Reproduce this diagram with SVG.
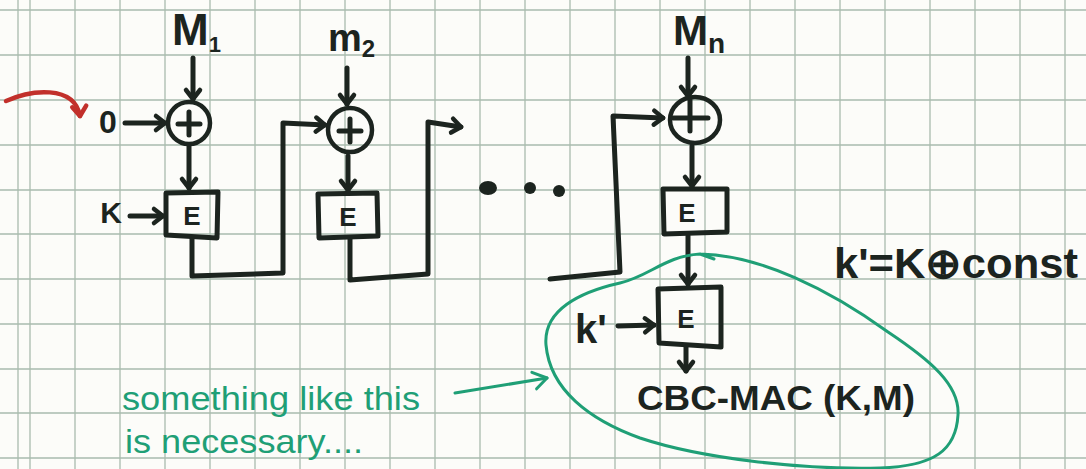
<svg xmlns="http://www.w3.org/2000/svg" width="1086" height="469" viewBox="0 0 1086 469">
<defs>
<style>
.grid line{stroke:#a9bbae;stroke-width:1.3}
.ink{stroke:#1c241f;stroke-width:5;fill:none;stroke-linecap:round;stroke-linejoin:round}
.box{stroke:#1c241f;stroke-width:5;fill:none;stroke-linejoin:round}
.xor{stroke:#1c241f;stroke-width:4.5;fill:none}
.lbl{font-family:"Liberation Sans",Arial,sans-serif;font-weight:bold;fill:#1c241f}
.ebox{font-family:"Liberation Sans",Arial,sans-serif;font-weight:bold;fill:#1c241f;font-size:26px;text-anchor:middle}
.grn{font-family:"Liberation Sans",Arial,sans-serif;fill:#1f9f76}
.gline{stroke:#1f9f76;stroke-width:3;fill:none;stroke-linecap:round;stroke-linejoin:round}
</style>
<marker id="ah" viewBox="-12 -10 14 20" markerWidth="14" markerHeight="20" refX="0" refY="0" markerUnits="userSpaceOnUse" orient="auto" overflow="visible">
<path d="M-9,-7 L0,0 L-9,7" fill="none" stroke="#1c241f" stroke-width="4.5" stroke-linecap="round" stroke-linejoin="round"/>
</marker>
<marker id="ahg" viewBox="-16 -10 18 20" markerWidth="18" markerHeight="20" refX="0" refY="0" markerUnits="userSpaceOnUse" orient="auto" overflow="visible">
<path d="M-14,-8 L0,0 L-12,9" fill="none" stroke="#1f9f76" stroke-width="3" stroke-linecap="round" stroke-linejoin="round"/>
</marker>
<marker id="ahr" viewBox="-12 -10 14 20" markerWidth="14" markerHeight="20" refX="0" refY="0" markerUnits="userSpaceOnUse" orient="auto" overflow="visible">
<path d="M-9,-8 L0,0 L-10,6" fill="none" stroke="#c2302b" stroke-width="4.5" stroke-linecap="round" stroke-linejoin="round"/>
</marker>
</defs>
<rect width="1086" height="469" fill="#fcfcf9"/>
<g class="grid" id="grid">
<line x1="18" y1="0" x2="18" y2="469"/>
<line x1="30" y1="0" x2="30" y2="469"/><line x1="75" y1="0" x2="75" y2="469"/><line x1="120" y1="0" x2="120" y2="469"/><line x1="165" y1="0" x2="165" y2="469"/><line x1="210" y1="0" x2="210" y2="469"/><line x1="255" y1="0" x2="255" y2="469"/><line x1="300" y1="0" x2="300" y2="469"/><line x1="345" y1="0" x2="345" y2="469"/><line x1="390" y1="0" x2="390" y2="469"/><line x1="435" y1="0" x2="435" y2="469"/><line x1="480" y1="0" x2="480" y2="469"/><line x1="525" y1="0" x2="525" y2="469"/><line x1="570" y1="0" x2="570" y2="469"/><line x1="615" y1="0" x2="615" y2="469"/><line x1="660" y1="0" x2="660" y2="469"/><line x1="705" y1="0" x2="705" y2="469"/><line x1="750" y1="0" x2="750" y2="469"/><line x1="795" y1="0" x2="795" y2="469"/><line x1="840" y1="0" x2="840" y2="469"/><line x1="885" y1="0" x2="885" y2="469"/><line x1="930" y1="0" x2="930" y2="469"/><line x1="975" y1="0" x2="975" y2="469"/><line x1="1020" y1="0" x2="1020" y2="469"/><line x1="1065" y1="0" x2="1065" y2="469"/>
<line x1="0" y1="10" x2="1086" y2="10"/><line x1="0" y1="55" x2="1086" y2="55"/><line x1="0" y1="100" x2="1086" y2="100"/><line x1="0" y1="145" x2="1086" y2="145"/><line x1="0" y1="190" x2="1086" y2="190"/><line x1="0" y1="234" x2="1086" y2="234"/><line x1="0" y1="279" x2="1086" y2="279"/><line x1="0" y1="324" x2="1086" y2="324"/><line x1="0" y1="369" x2="1086" y2="369"/><line x1="0" y1="413" x2="1086" y2="413"/><line x1="0" y1="458" x2="1086" y2="458"/>
</g>

<g id="connectors">
<path d="M6,101 C30,90 74,84 80,116" fill="none" stroke="#c2302b" stroke-width="4.5" stroke-linecap="round" marker-end="url(#ahr)"/>
<line class="ink" x1="125" y1="123" x2="165" y2="123" marker-end="url(#ah)"/>
<line class="ink" x1="193" y1="58" x2="193" y2="99" marker-end="url(#ah)"/>
<line class="ink" x1="189" y1="146" x2="189" y2="188" marker-end="url(#ah)"/>
<line class="ink" x1="130" y1="216" x2="163" y2="216" marker-end="url(#ah)"/>
<path class="ink" d="M192,238 L192,276 L283,273 L283,123 L325,125" marker-end="url(#ah)"/>
<line class="ink" x1="347" y1="68" x2="347" y2="104" marker-end="url(#ah)"/>
<line class="ink" x1="348" y1="156" x2="348" y2="190" marker-end="url(#ah)"/>
<path class="ink" d="M350,238 L350,280 L428,274 L428,122 L461,127" marker-end="url(#ah)"/>
<path class="ink" d="M550,279 L620,272 L613,116 L663,118" marker-end="url(#ah)"/>
<line class="ink" x1="688" y1="58" x2="688" y2="96" marker-end="url(#ah)"/>
<line class="ink" x1="692" y1="146" x2="692" y2="186" marker-end="url(#ah)"/>
<line class="ink" x1="688" y1="236" x2="688" y2="284" marker-end="url(#ah)"/>
<line class="ink" x1="618" y1="326" x2="654" y2="325" marker-end="url(#ah)"/>
<line class="ink" x1="686" y1="347" x2="686" y2="371" marker-end="url(#ah)"/>
<line class="gline" x1="455" y1="393" x2="547" y2="378" marker-end="url(#ahg)"/>
</g>

<g id="dots" fill="#1c241f">
<ellipse cx="488" cy="188" rx="9" ry="7"/>
<circle cx="530" cy="188" r="6"/>
<circle cx="559" cy="191" r="6"/>
</g>

<g id="input0"><text class="lbl" x="108" y="133" font-size="32" text-anchor="middle">0</text></g>
<g id="keyK"><text class="lbl" x="111" y="223" font-size="30" text-anchor="middle">K</text></g>

<g id="m1label"><text class="lbl" x="172" y="45" font-size="44">M<tspan font-size="22" dy="7">1</tspan></text></g>
<g id="xor1"><circle class="xor" cx="189" cy="123" r="21"/><path class="ink" d="M178,124 H200 M189,112 V135"/></g>
<g id="e1"><path class="box" d="M166,193 L218,192 L217,238 L166,235 Z"/><text class="ebox" x="192" y="225">E</text></g>

<g id="m2label"><text class="lbl" x="328" y="51" font-size="38">m<tspan font-size="24" dy="6">2</tspan></text></g>
<g id="xor2"><circle class="xor" cx="350" cy="130" r="22"/><path class="ink" d="M339,131 H361 M350,119 V142"/></g>
<g id="e2"><path class="box" d="M318,194 L377,193 L378,236 L319,238 Z"/><text class="ebox" x="348" y="226">E</text></g>

<g id="mnlabel"><text class="lbl" x="673" y="45" font-size="42">M<tspan font-size="28" dy="8">n</tspan></text></g>
<g id="xorn"><ellipse class="xor" cx="695" cy="120" rx="25" ry="23"/><path class="ink" d="M673,118 H708 M690,100 V131"/></g>
<g id="en"><path class="box" d="M663,189 L727,189 L727,232 L664,234 Z"/><text class="ebox" x="687" y="222">E</text></g>

<g id="eprime"><path class="box" d="M658,289 L721,287 L721,347 L659,343 Z"/><text class="ebox" x="686" y="328">E</text></g>
<g id="kprime"><text class="lbl" x="575" y="343" font-size="40">k'</text></g>
<g id="output"><text class="lbl" x="637" y="410" font-size="35" textLength="278" lengthAdjust="spacingAndGlyphs">CBC-MAC (K,M)</text></g>
<g id="keydef"><text class="lbl" x="834" y="278" font-size="42" textLength="244" lengthAdjust="spacingAndGlyphs">k'=K⊕const</text></g>

<g id="highlight">
<path class="gline" d="M700,254 C760,255 830,290 888,332 C930,360 960,385 958,415 C956,450 935,466 880,468 C800,470 700,458 640,438 C590,420 550,390 546,345 C543,310 580,292 620,283 C650,276 665,256 700,254 L714,259"/>
</g>
<g id="note">
<text class="grn" x="122" y="410" font-size="34" textLength="298" lengthAdjust="spacingAndGlyphs">something like this</text>
<text class="grn" x="125" y="453" font-size="34" textLength="238" lengthAdjust="spacingAndGlyphs">is necessary....</text>
</g>
</svg>
